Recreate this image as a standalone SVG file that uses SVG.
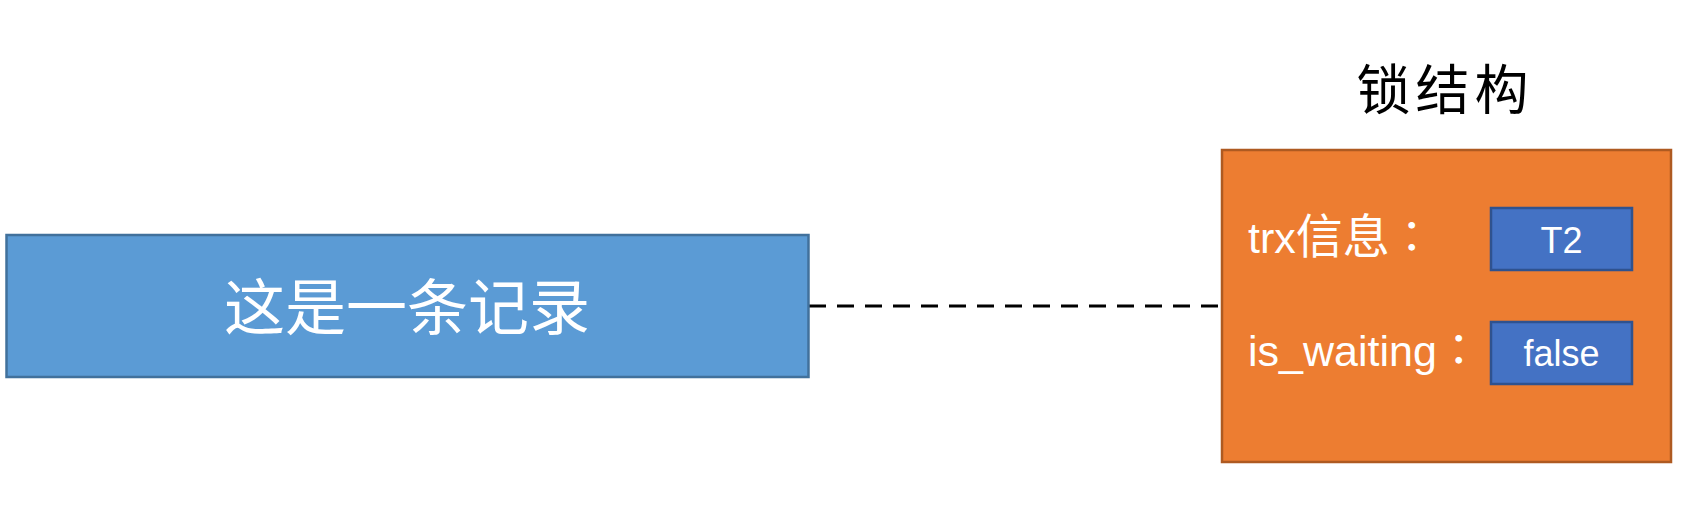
<svg xmlns="http://www.w3.org/2000/svg" width="1690" height="528" viewBox="0 0 1690 528">
  <style>
    .cjk { font-family: "Noto Sans CJK SC", "Noto Sans", sans-serif; }
    .cjktc { font-family: "Noto Sans CJK TC", "Noto Sans CJK SC", sans-serif; }
    .lat { font-family: "Liberation Sans", "Noto Sans CJK SC", sans-serif; }
    .wt { fill: #ffffff; }
    .inner { fill: #4472C4; stroke: #2F528F; stroke-width: 2.5; }
  </style>
  <rect width="1690" height="528" fill="#ffffff"/>
  <g id="connectors">
    <line x1="809" y1="306" x2="1222" y2="306" stroke="#000000" stroke-width="3" stroke-dasharray="17 11"/>
  </g>
  <g id="record">
    <rect x="6.5" y="235" width="802" height="142" fill="#5B9BD5" stroke="#41719C" stroke-width="2.5"/>
    <text x="407" y="330" text-anchor="middle" font-size="61" class="cjk wt">这是一条记录</text>
  </g>
  <g id="lock">
    <text x="1445" y="110" text-anchor="middle" font-size="54" letter-spacing="5" class="cjk" fill="#000000">锁结构</text>
    <rect x="1222" y="150" width="449" height="312" fill="#ED7D31" stroke="#AE5A21" stroke-width="2.5"/>
    <text x="1248" y="253" font-size="43" class="lat wt">trx<tspan class="cjk" font-size="47">信息</tspan><tspan class="cjktc" font-size="44">：</tspan></text>
    <text x="1248" y="366" font-size="43" class="lat wt">is_waiting<tspan class="cjktc" font-size="44">：</tspan></text>
  </g>
  <g id="trx-value">
    <rect x="1491" y="208" width="141" height="62" class="inner"/>
    <text x="1561.5" y="253" text-anchor="middle" font-size="36" class="lat wt">T2</text>
  </g>
  <g id="waiting-value">
    <rect x="1491" y="322" width="141" height="62" class="inner"/>
    <text x="1561.5" y="366" text-anchor="middle" font-size="36" class="lat wt">false</text>
  </g>
</svg>
